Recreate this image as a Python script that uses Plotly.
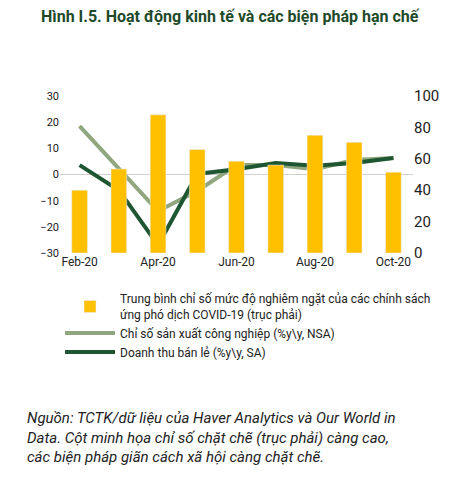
import plotly.graph_objects as go

months = ["Feb-20", "Mar-20", "Apr-20", "May-20", "Jun-20", "Jul-20", "Aug-20", "Sep-20", "Oct-20"]
tick_labels = ["Feb-20", "Apr-20", "Jun-20", "Aug-20", "Oct-20"]
stringency = [40, 53.5, 88, 66, 58.5, 56, 75, 70.5, 51.5]
industrial = [18.5, 2.5, -14, -6.3, 3.6, 3.6, 2, 5.5, 6.3]
retail = [3.6, -6, -27, 0.2, 2, 4.4, 3.3, 4.4, 6.3]

ORANGE = "#ffc000"
GRAY = "#8fa67e"
GREEN = "#1e5631"
FONT = "Roboto"

fig = go.Figure()
fig.add_trace(go.Bar(
    x=months, y=stringency, yaxis="y2", marker_color=ORANGE,
    name="Trung bình chỉ số mức độ nghiêm ngặt của các chính sách<br>ứng phó dịch COVID-19 (trục phải)",
))
fig.add_trace(go.Scatter(
    x=months, y=industrial, mode="lines", line=dict(color=GRAY, width=4),
    name="Chỉ số sản xuất công nghiệp (%y\\y, NSA)",
))
fig.add_trace(go.Scatter(
    x=months, y=retail, mode="lines", line=dict(color=GREEN, width=4),
    name="Doanh thu bán lẻ (%y\\y, SA)",
))

fig.update_layout(
    width=467, height=485,
    margin=dict(l=52, r=62, t=88, b=240),
    plot_bgcolor="white", paper_bgcolor="white",
    font=dict(family=FONT, size=12, color="#222"),
    bargap=0.6,
    xaxis=dict(tickvals=tick_labels, showgrid=False, ticks="",
               showline=False, tickfont=dict(size=12)),
    yaxis=dict(range=[-30, 30], dtick=10, showgrid=False, zeroline=True,
               zerolinecolor="#d0d0d0", zerolinewidth=1, tickfont=dict(size=11)),
    yaxis2=dict(range=[0, 100], dtick=20, overlaying="y", side="right",
                showgrid=False, tickfont=dict(size=15)),
    legend=dict(x=0.0, y=-0.2, xanchor="left", yanchor="top",
                font=dict(size=12), tracegroupgap=12, traceorder="normal",
                itemwidth=50),
    showlegend=True,
)
fig.add_annotation(text="<b>Hình I.5. Hoạt động kinh tế và các biện pháp hạn chế</b>",
                   xref="paper", yref="paper", x=-0.06, y=1.0, yshift=68,
                   xanchor="left", yanchor="bottom", showarrow=False,
                   font=dict(size=16, color="#1e4a2a"))
fig.add_annotation(
    text="<i>Nguồn: TCTK/dữ liệu của Haver Analytics và Our World in<br>"
         "Data. Cột minh họa chỉ số chặt chẽ (trục phải) càng cao,<br>"
         "các biện pháp giãn cách xã hội càng chặt chẽ.</i>",
    xref="paper", yref="paper", x=-0.1, y=-0.98, xanchor="left", yanchor="top",
    align="left", showarrow=False, font=dict(size=15, color="#222"))
fig.write_html("out.html")
